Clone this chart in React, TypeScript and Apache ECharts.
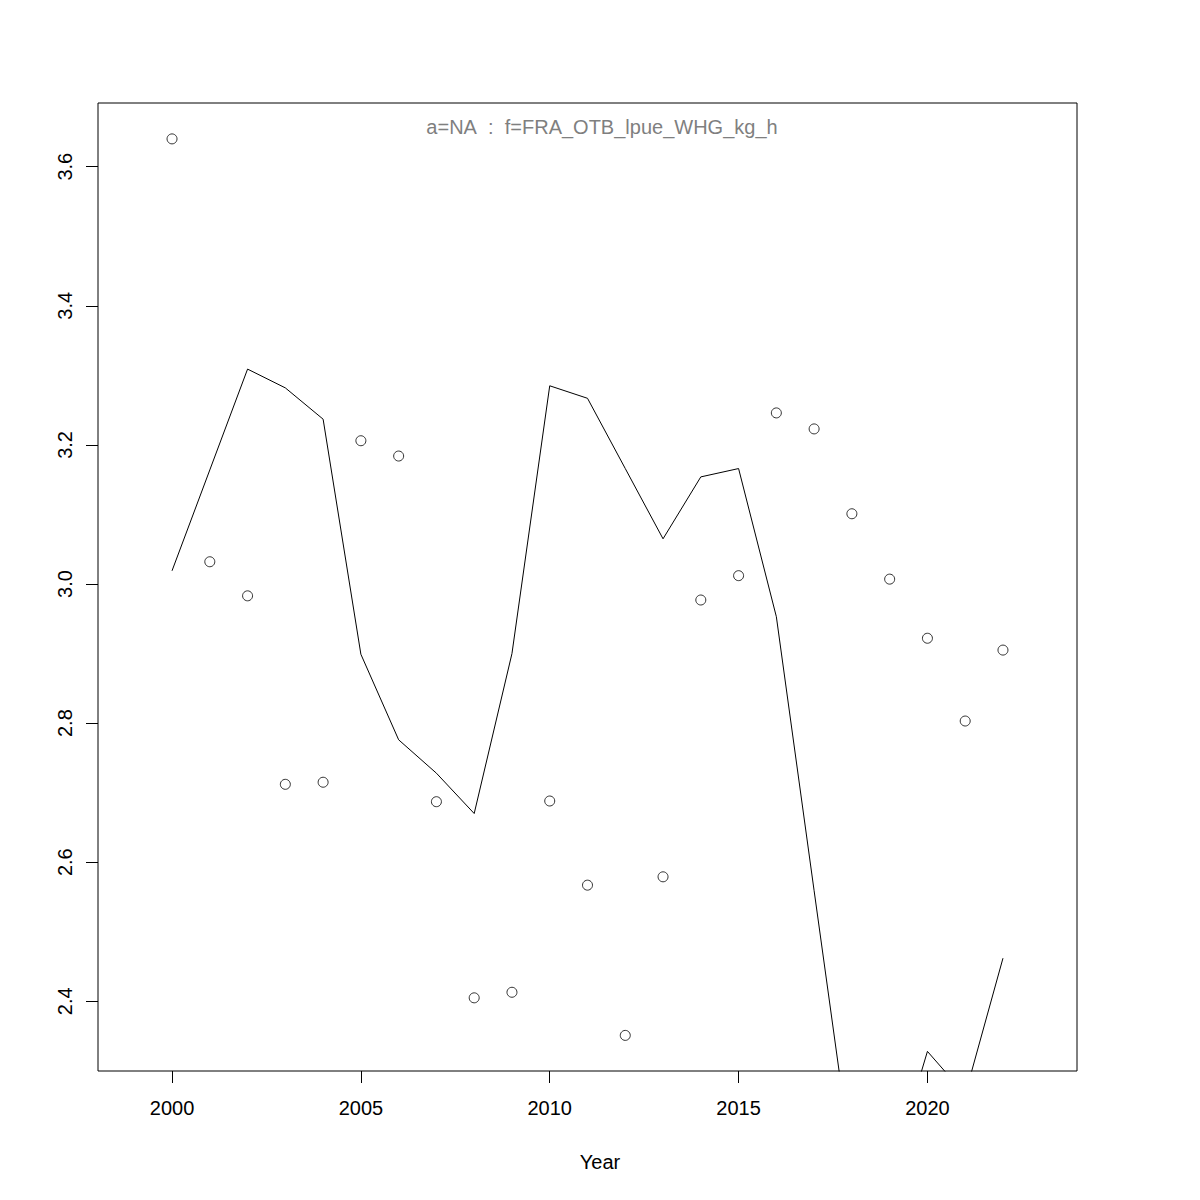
import React, { useEffect, useRef } from "react";
import * as echarts from "echarts";

const years = [2000, 2001, 2002, 2003, 2004, 2005, 2006, 2007, 2008, 2009, 2010, 2011, 2012, 2013, 2014, 2015, 2016, 2017, 2018, 2019, 2020, 2021, 2022];
const observed = [3.640, 3.032, 2.983, 2.712, 2.715, 3.206, 3.184, 2.687, 2.405, 2.413, 2.688, 2.567, 2.351, 2.579, 2.977, 3.012, 3.246, 3.223, 3.101, 3.007, 2.922, 2.803, 2.905];
const fitted = [3.019, 3.164, 3.309, 3.282, 3.237, 2.899, 2.776, 2.728, 2.670, 2.900, 3.285, 3.267, 3.166, 3.065, 3.154, 3.166, 2.953, 2.559, 2.167, 2.146, 2.328, 2.266, 2.462];
const xTicks = [2000, 2005, 2010, 2015, 2020];
const yTicks = [2.4, 2.6, 2.8, 3.0, 3.2, 3.4, 3.6];
const titleText = "a=NA\u00a0\u00a0:\u00a0\u00a0f=FRA_OTB_lpue_WHG_kg_h";
const xName = "Year";

const FONT = "'Liberation Sans', Arial, Helvetica, sans-serif";
const FS = 20;

export default function App() {
  const ref = useRef<HTMLDivElement>(null);
  useEffect(() => {
    if (!ref.current) return;
    const chart = echarts.init(ref.current, undefined, { renderer: "svg" });
    chart.setOption({
      animation: false,
      backgroundColor: "#fff",
      textStyle: { fontFamily: FONT },
      grid: {
        left: 98,
        right: 123,
        top: 103,
        bottom: 129,
        show: true,
        borderColor: "#000",
        borderWidth: 1,
        backgroundColor: "transparent",
      },
      graphic: [
        {
          type: "text",
          x: 602,
          y: 127,
          style: {
            text: titleText,
            fill: "#7f7f7f",
            font: `${FS}px ${FONT}`,
            textAlign: "center",
            textVerticalAlign: "middle",
          },
        },
        {
          type: "text",
          x: 600,
          y: 1162,
          style: {
            text: xName,
            fill: "#000",
            font: `${FS}px ${FONT}`,
            textAlign: "center",
            textVerticalAlign: "middle",
          },
        },
      ],
      xAxis: {
        type: "value",
        min: 1998.04,
        max: 2023.96,
        axisLine: { show: false },
        axisTick: {
          show: true,
          length: 12,
          lineStyle: { color: "#000", width: 1 },
          customValues: xTicks,
        },
        axisLabel: {
          color: "#000",
          fontSize: FS,
          fontFamily: FONT,
          margin: 27,
          customValues: xTicks,
          formatter: (v: number) => String(Math.round(v)),
        },
        splitLine: { show: false },
      },
      yAxis: {
        type: "value",
        min: 2.2998,
        max: 3.6916,
        axisLine: { show: false },
        axisTick: {
          show: true,
          length: 12,
          lineStyle: { color: "#000", width: 1 },
          customValues: yTicks,
        },
        axisLabel: {
          color: "#000",
          fontSize: FS,
          fontFamily: FONT,
          rotate: 90,
          margin: 23,
          customValues: yTicks,
          formatter: (v: number) => v.toFixed(1),
        },
        splitLine: { show: false },
      },
      series: [
        {
          type: "line",
          data: years.map((y, i) => [y, fitted[i]]),
          showSymbol: false,
          symbol: "none",
          clip: true,
          lineStyle: { color: "#000", width: 1 },
          z: 2,
        },
        {
          type: "scatter",
          data: years.map((y, i) => [y, observed[i]]),
          symbol: "circle",
          symbolSize: 10,
          itemStyle: { color: "rgba(0,0,0,0)", borderColor: "#000", borderWidth: 1 },
          z: 3,
        },
      ],
    });
    return () => chart.dispose();
  }, []);
  return (
    <div
      ref={ref}
      style={{ position: "absolute", left: 0, top: 0, width: 1200, height: 1200 }}
    />
  );
}
